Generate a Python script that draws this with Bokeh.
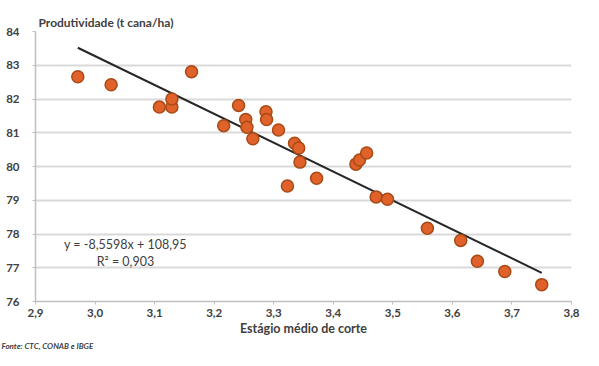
from bokeh.plotting import figure
from bokeh.models import Label, FixedTicker, ColumnDataSource, Range1d, Title
from bokeh.embed import file_html
from bokeh.resources import INLINE

# Data
estagio = [2.971, 3.027, 3.108, 3.129, 3.129, 3.162, 3.216, 3.241, 3.253, 3.255,
           3.265, 3.287, 3.288, 3.308, 3.335, 3.342, 3.344, 3.323, 3.372, 3.438,
           3.444, 3.456, 3.472, 3.491, 3.558, 3.614, 3.642, 3.688, 3.750]
produtividade = [82.66, 82.42, 81.76, 81.76, 82.00, 82.81, 81.21, 81.81, 81.39, 81.16,
                 80.82, 81.62, 81.39, 81.08, 80.69, 80.55, 80.13, 79.42, 79.65, 80.07,
                 80.19, 80.40, 79.10, 79.03, 78.17, 77.81, 77.19, 76.89, 76.50]
slope = -8.5598
intercept = 108.95
equation_text = "y = -8,5598x + 108,95"
r2_text = "R\u00b2 = 0,903"
x_ticks = [2.9, 3.0, 3.1, 3.2, 3.3, 3.4, 3.5, 3.6, 3.7, 3.8]
x_tick_labels = ["2,9", "3,0", "3,1", "3,2", "3,3", "3,4", "3,5", "3,6", "3,7", "3,8"]
y_ticks = [76, 77, 78, 79, 80, 81, 82, 83, 84]

FONT = "Lato"
TXT = "#404040"

p = figure(width=583, height=350, output_backend="svg", toolbar_location=None,
           x_range=Range1d(2.9, 3.8), y_range=Range1d(76, 84),
           min_border_left=35, min_border_right=12, min_border_top=31, min_border_bottom=0)
p.outline_line_color = None
p.background_fill_color = "white"

# title
p.title.text = "Produtividade (t cana/ha)"
p.title.text_font = FONT
p.title.text_font_size = "12px"
p.title.text_font_style = "bold"
p.title.text_color = TXT
p.title.align = "left"
p.title.offset = 3
p.title.standoff = 4

# source note below the axis title
p.add_layout(Title(text="Fonte: CTC, CONAB e IBGE", align="left", offset=-34,
                   text_font=FONT, text_font_size="8px", text_font_style="bold italic",
                   text_color=TXT, standoff=0), "below")

# grid
p.xgrid.grid_line_color = None
p.ygrid.grid_line_color = "#d9d9d9"
p.ygrid.grid_line_width = 2
p.ygrid.ticker = FixedTicker(ticks=y_ticks)

# axes
p.xaxis.ticker = FixedTicker(ticks=x_ticks)
p.xaxis.major_label_overrides = {t: l for t, l in zip(x_ticks, x_tick_labels)}
p.yaxis.ticker = FixedTicker(ticks=y_ticks)
for ax in (p.xaxis, p.yaxis):
    ax.axis_line_color = "#bfbfbf"
    ax.axis_line_width = 1.5
    ax.major_tick_line_color = "#bfbfbf"
    ax.major_tick_out = 3
    ax.major_tick_in = 0
    ax.minor_tick_line_color = None
    ax.major_label_text_font = FONT
    ax.major_label_text_font_size = "11.5px"
    ax.major_label_text_font_style = "bold"
    ax.major_label_text_color = TXT
p.yaxis.major_label_standoff = 13
p.xaxis.major_label_standoff = 4
p.xaxis.axis_label = "Est\u00e1gio m\u00e9dio de corte"
p.xaxis.axis_label_text_font = FONT
p.xaxis.axis_label_text_font_size = "12.5px"
p.xaxis.axis_label_text_font_style = "bold"
p.xaxis.axis_label_text_color = TXT
p.xaxis.axis_label_standoff = 1

# trend line
x0, x1 = min(estagio), max(estagio)
p.line([x0, x1], [slope * x0 + intercept, slope * x1 + intercept],
       line_color="#262626", line_width=2)

# points
src = ColumnDataSource(dict(x=estagio, y=produtividade))
p.scatter("x", "y", source=src, size=12, fill_color="#E0622A",
          line_color="#A84A16", line_width=1.5)

# equation
p.add_layout(Label(x=3.051, y=77.69, text=equation_text, text_align="center",
                   text_baseline="middle", text_font=FONT, text_font_size="12.5px",
                   text_color=TXT))
p.add_layout(Label(x=3.051, y=77.2, text=r2_text, text_align="center",
                   text_baseline="middle", text_font=FONT, text_font_size="12.5px",
                   text_color=TXT))

open("out.html", "w").write(file_html(p, INLINE))
